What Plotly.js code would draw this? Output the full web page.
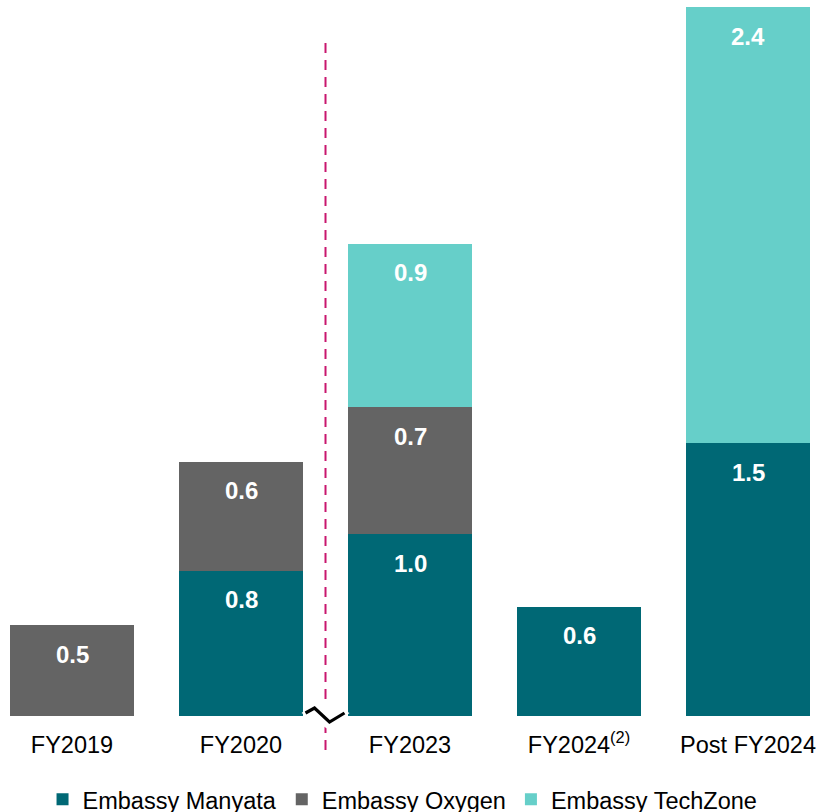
<!DOCTYPE html>
<html>
<head>
<meta charset="utf-8">
<script src="https://cdn.plot.ly/plotly-3.0.1.min.js"></script>
<style>
  html, body { margin: 0; padding: 0; background: #ffffff; }
  #chart { width: 819px; height: 812px; }
</style>
</head>
<body>
<div id="chart"></div>
<script>
// Leasable area additions by campus (msf), stacked per period
const periods = ['FY2019', 'FY2020', 'FY2023', 'FY2024', 'Post FY2024'];
const periodLabels = ['FY2019', 'FY2020', 'FY2023', 'FY2024<sup>(2)</sup>', 'Post FY2024'];
const manyata  = [null, 0.8, 1.0, 0.6, 1.5];
const oxygen   = [0.5, 0.6, 0.7, null, null];
const techZone = [null, null, 0.9, null, 2.4];

const seriesNames = ['Embassy Manyata', 'Embassy Oxygen', 'Embassy TechZone'];
const seriesColors = ['#006875', '#646464', '#66CFC9'];
const seriesValues = [manyata, oxygen, techZone];

const W = 819, H = 812;
const margin = { l: 0, r: 0, t: 0, b: 96, autoexpand: false };
const xRange = [-0.426, 4.42];
const yRange = [0, 3.94];

const traces = seriesValues.map((vals, i) => ({
  type: 'bar',
  name: seriesNames[i],
  x: periods,
  y: vals,
  marker: { color: seriesColors[i], line: { width: 0 } },
  hoverinfo: 'skip'
}));

// value labels placed just below the top of each stacked segment
const annotations = [];
const cum = periods.map(() => 0);
seriesValues.forEach(vals => {
  vals.forEach((v, j) => {
    if (v == null) return;
    cum[j] += v;
    annotations.push({
      x: periods[j], y: cum[j], xref: 'x', yref: 'y',
      text: '<b>' + v.toFixed(1) + '</b>',
      showarrow: false, yanchor: 'middle', yshift: -29,
      font: { family: 'Liberation Sans, Arial, sans-serif', size: 24, color: '#ffffff' }
    });
  });
});

// helpers converting axis/pixel positions to paper fractions
const plotW = W - margin.l - margin.r;
const plotH = H - margin.t - margin.b;
const xPaper = v => (v - xRange[0]) / (xRange[1] - xRange[0]);
const yPaperPx = py => (plotH - (py - margin.t)) / plotH;
const xPaperPx = px => (px - margin.l) / plotW;

// divider between the FY2020 and FY2023 groups
const divX = xPaper(1.5);
const divPx = divX * plotW + margin.l;
const basePx = margin.t + plotH;

// axis-break squiggle centred on the divider at the baseline
const brk = [[-20, -3], [-11, -8], [4, 6], [19, -3]];
const brkPath = brk.map((p, i) =>
  (i ? 'L' : 'M') + xPaperPx(divPx + p[0]).toFixed(5) + ',' + yPaperPx(basePx + p[1]).toFixed(5)
).join(' ');
const brkBg = [[-24, -3], [-4, -18], [24, -3], [4, 14]];
const brkBgPath = brkBg.map((p, i) =>
  (i ? 'L' : 'M') + xPaperPx(divPx + p[0]).toFixed(5) + ',' + yPaperPx(basePx + p[1]).toFixed(5)
).join(' ') + ' Z';

const shapes = [
  {
    type: 'line', xref: 'paper', yref: 'paper',
    x0: divX, x1: divX, y0: yPaperPx(750), y1: yPaperPx(40),
    line: { color: '#C8176E', width: 2, dash: '10px,7px' },
    layer: 'above'
  },
  {
    type: 'path', xref: 'paper', yref: 'paper', path: brkBgPath,
    fillcolor: '#ffffff', line: { width: 0 }, layer: 'above'
  },
  {
    type: 'path', xref: 'paper', yref: 'paper', path: brkPath,
    line: { color: '#000000', width: 3.2 }, layer: 'above'
  }
];

const layout = {
  width: W, height: H,
  margin: margin,
  paper_bgcolor: '#ffffff',
  plot_bgcolor: '#ffffff',
  barmode: 'stack',
  bargap: 0.266,
  font: { family: 'Liberation Sans, Arial, sans-serif', color: '#000000' },
  xaxis: {
    type: 'category',
    categoryorder: 'array',
    categoryarray: periods,
    tickvals: periods,
    ticktext: periodLabels,
    range: xRange,
    showgrid: false, zeroline: false, showline: false,
    ticks: '', ticklabelstandoff: 12,
    tickfont: { size: 23.5, color: '#000000' },
    fixedrange: true
  },
  yaxis: {
    range: yRange,
    visible: false,
    showgrid: false, zeroline: false,
    fixedrange: true
  },
  showlegend: true,
  legend: {
    orientation: 'h',
    traceorder: 'normal',
    x: 0.4915, xanchor: 'center',
    y: -0.086, yanchor: 'top',
    font: { size: 23.5, color: '#000000' },
    itemclick: false, itemdoubleclick: false
  },
  annotations: annotations,
  shapes: shapes
};

Plotly.newPlot('chart', traces, layout, { displayModeBar: false, staticPlot: true });
</script>
</body>
</html>
